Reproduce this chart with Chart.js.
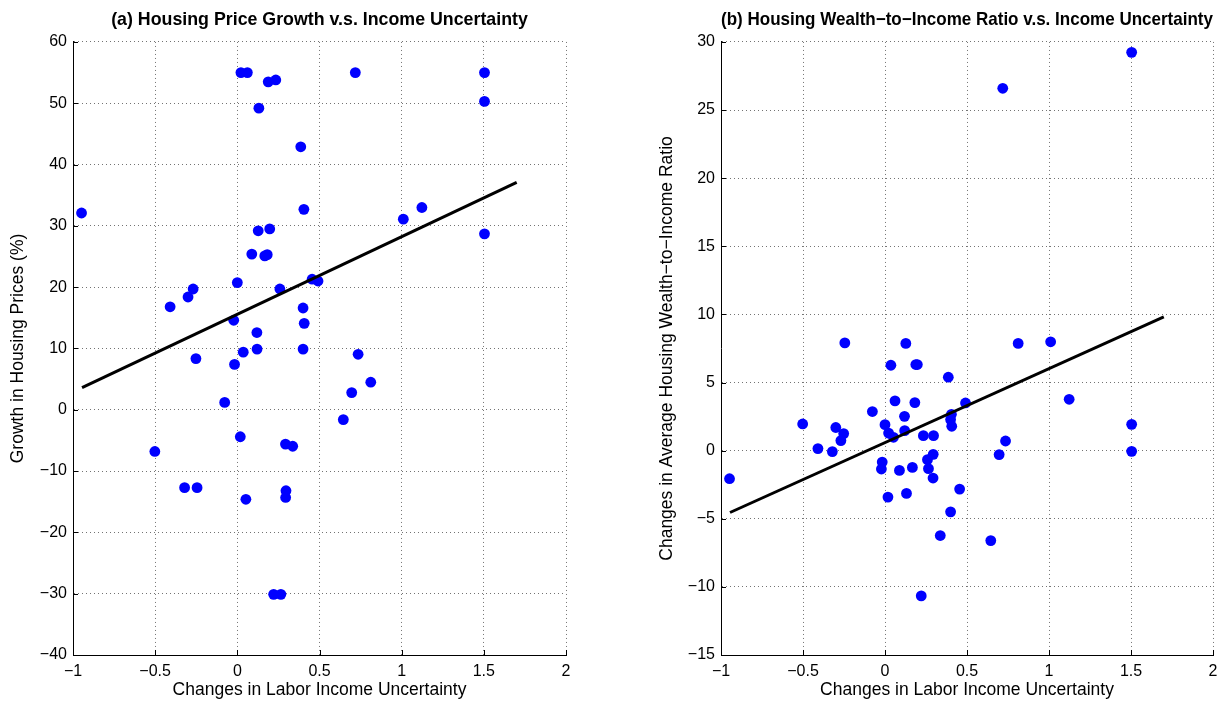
<!DOCTYPE html>
<html>
<head>
<meta charset="utf-8">
<script src="https://cdn.jsdelivr.net/npm/chart.js@4.4.1/dist/chart.umd.min.js"></script>
<style>
  html, body { margin: 0; padding: 0; background: #fff; }
  #wrap { position: relative; width: 1228px; height: 701px; }
  canvas { position: absolute; top: 0; }
  #priceChart { left: 0; }
  #wealthChart { left: 614px; }
</style>
</head>
<body>
<div id="wrap">
  <canvas id="priceChart" width="614" height="701"></canvas>
  <canvas id="wealthChart" width="614" height="701"></canvas>
</div>
<script>
// Change in labor income uncertainty, one entry per region (shared by both panels)
const laborUncertainty = [-0.948, -0.502, -0.409, -0.321, -0.300, -0.269, -0.252, -0.245, -0.077, -0.022,
  -0.017, 0.000, 0.018, 0.022, 0.036, 0.052, 0.061, 0.088, 0.119, 0.120,
  0.127, 0.131, 0.167, 0.182, 0.188, 0.197, 0.221, 0.234, 0.259, 0.265,
  0.293, 0.294, 0.296, 0.337, 0.386, 0.400, 0.400, 0.405, 0.407, 0.455,
  0.491, 0.645, 0.696, 0.718, 0.735, 0.812, 1.010, 1.123, 1.504, 1.504, 1.504];

// Panel (a): growth in housing prices (%)
const priceGrowth = [32.1, -6.8, 16.8, -12.7, 18.4, 19.7, 8.35, -12.7, 1.2, 14.6,
  7.4, 20.75, -4.4, 55, 9.4, -14.6, 55, 25.4, 12.6, 9.9,
  29.2, 49.2, 25.1, 25.3, 53.5, 29.5, -30.1, 53.8, 19.7, -30.1,
  -5.6, -14.3, -13.2, -5.95, 42.9, 16.6, 9.9, 32.7, 14.1, 21.3,
  21.0, -1.6, 2.8, 55, 9.05, 4.5, 31.1, 33.0, 55, 50.3, 28.7];

// Panel (b): change in average housing wealth-to-income ratio
const wealthRatioChange = [-2.06, 1.96, 0.15, -0.07, 1.7, 0.74, 1.25, 7.91, 2.87, -1.35,
  -0.84, 1.91, -3.41, 1.29, 6.27, 0.98, 3.65, -1.45, 2.52, 1.47,
  7.87, -3.14, -1.23, 3.53, 6.32, 6.32, -10.66, 1.1, -0.66, -1.32,
  -2.01, -0.27, 1.1, -6.23, 5.39, 2.28, -4.49, 2.67, 1.79, -2.82,
  3.5, -6.6, -0.29, 26.6, 0.71, 7.87, 7.99, 3.77, 29.24, 1.93, -0.05];

// Fitted regression lines (end points)
const fitX = [-0.945, 1.70];
const priceGrowthFit = [3.6, 37.1];
const wealthRatioFit = [-4.54, 9.82];

// Tick positions
const xTicks = [-1, -0.5, 0, 0.5, 1, 1.5, 2];
const priceTicks = [-40, -30, -20, -10, 0, 10, 20, 30, 40, 50, 60];
const wealthTicks = [-15, -10, -5, 0, 5, 10, 15, 20, 25, 30];

const FONT = "'Liberation Sans', Arial, Helvetica, sans-serif";
const fmt = v => String(v).replace('-', '\u2212');
const pts = (xs, ys) => xs.map((x, i) => ({ x: x, y: ys[i] }));

// Short tick marks pointing into the plot area
const inwardTicks = {
  id: 'inwardTicks',
  beforeDatasetsDraw(chart) {
    const { ctx, chartArea: a, scales: { x, y } } = chart;
    ctx.save();
    ctx.strokeStyle = '#000';
    ctx.lineWidth = 1;
    ctx.beginPath();
    x.ticks.forEach(t => {
      const p = Math.round(x.getPixelForValue(t.value)) + 0.5;
      ctx.moveTo(p, a.bottom); ctx.lineTo(p, a.bottom - 5);
    });
    y.ticks.forEach(t => {
      const p = Math.round(y.getPixelForValue(t.value)) + 0.5;
      ctx.moveTo(a.left, p); ctx.lineTo(a.left + 5, p);
    });
    ctx.stroke();
    ctx.restore();
  }
};

function makeChart(id, o) {
  const gridCfg = { color: 'rgba(0,0,0,0.55)', lineWidth: 1, drawTicks: false };
  const borderCfg = { display: true, color: '#000', width: 1, dash: [1, 3] };
  const tickFont = { family: FONT, size: 16 };
  const titleFont = { family: FONT, size: 17.5 };
  return new Chart(document.getElementById(id), {
    type: 'scatter',
    data: {
      datasets: [
        { data: pts(laborUncertainty, o.values), backgroundColor: '#0000ff', borderWidth: 0,
          pointRadius: 5.4, pointHoverRadius: 5.4, order: 2 },
        { data: pts(fitX, o.fit), showLine: true, borderColor: '#000', borderWidth: 3,
          pointRadius: 0, fill: false, tension: 0, order: 1 }
      ]
    },
    options: {
      responsive: false,
      animation: false,
      devicePixelRatio: 1,
      events: [],
      layout: { padding: { left: 0, right: o.padRight, top: 0, bottom: 0 } },
      plugins: {
        legend: { display: false },
        tooltip: { enabled: false },
        title: { display: true, text: o.title, fullSize: false, color: '#000',
          font: { family: FONT, size: 17.8, weight: 'bold' }, padding: { top: 9.8, bottom: 10.8 } }
      },
      scales: {
        x: {
          type: 'linear', min: -1, max: 2,
          afterBuildTicks: s => { s.ticks = xTicks.map(v => ({ value: v })); },
          afterFit: s => { s.height = 46; },
          ticks: { callback: fmt, color: '#000', font: tickFont, padding: 7, maxRotation: 0, autoSkip: false },
          grid: gridCfg,
          border: borderCfg,
          title: { display: true, text: 'Changes in Labor Income Uncertainty', color: '#000',
            font: titleFont, padding: { top: 0, bottom: 0 } }
        },
        y: {
          type: 'linear', min: o.yTicks[0], max: o.yTicks[o.yTicks.length - 1],
          afterBuildTicks: s => { s.ticks = o.yTicks.map(v => ({ value: v })); },
          afterFit: s => { s.width = o.yWidth; },
          ticks: { callback: fmt, color: '#000', font: tickFont, padding: 6, autoSkip: false },
          grid: gridCfg,
          border: borderCfg,
          title: { display: true, text: o.yTitle, color: '#000',
            font: titleFont, padding: { top: o.yTitlePad, bottom: 0 } }
        }
      }
    },
    plugins: [inwardTicks]
  });
}

makeChart('priceChart', {
  title: '(a) Housing Price Growth v.s. Income Uncertainty',
  yTitle: 'Growth in Housing Prices (%)',
  values: priceGrowth, fit: priceGrowthFit, yTicks: priceTicks,
  yWidth: 73, yTitlePad: 7.5, padRight: 48
});

makeChart('wealthChart', {
  title: '(b) Housing Wealth\u2212to\u2212Income Ratio v.s. Income Uncertainty',
  yTitle: 'Changes in Average Housing Wealth\u2212to\u2212Income Ratio',
  values: wealthRatioChange, fit: wealthRatioFit, yTicks: wealthTicks,
  yWidth: 107, yTitlePad: 42.5, padRight: 15
});
</script>
</body>
</html>
